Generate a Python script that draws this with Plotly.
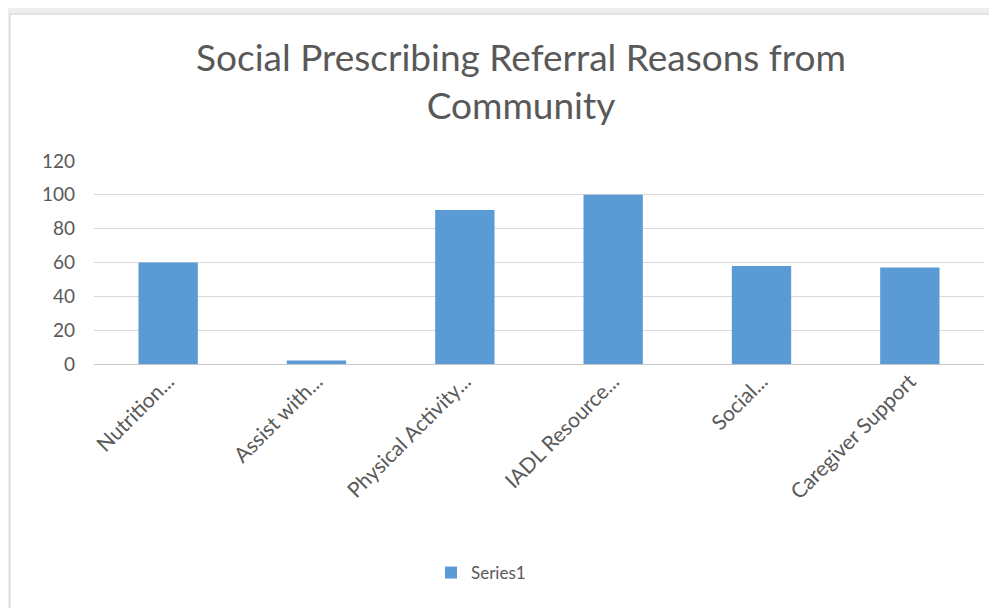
import plotly.graph_objects as go

categories = ["Nutrition...", "Assist with...", "Physical Activity...", "IADL Resource...",
              "Social...", "Caregiver Support"]
values = [60, 2, 91, 100, 58, 57]
y_ticks = [0, 20, 40, 60, 80, 100, 120]
series_name = "Series1"

# page body has an 8px margin, so the figure is 8px smaller than the window
W, H = 989, 600
L, R, T, B = 86, 13, 153, 244
pw, ph = W - L - R, H - T - B

def px_x(x):
    return (x - L) / pw

def px_y(y):
    return (H - B - y) / ph

fig = go.Figure()
fig.add_trace(go.Bar(x=categories, y=values, name=series_name,
                     marker=dict(color="#5b9bd5", line=dict(width=0)),
                     showlegend=True))

fig.update_layout(
    width=W, height=H,
    margin=dict(l=L, r=R, t=T, b=B),
    paper_bgcolor="#eeeeee",
    plot_bgcolor="rgba(0,0,0,0)",
    font=dict(family="Lato, Open Sans, sans-serif", color="#595959", size=14),
    title=dict(text="Social Prescribing Referral Reasons from<br>Community",
               x=513 / W, xref="container", xanchor="center",
               y=1 - 63 / H, yanchor="top",
               font=dict(size=37, color="#595959")),
    bargap=0.6,
    showlegend=True,
    legend=dict(orientation="h", x=px_x(423), xanchor="left", y=px_y(565),
                yanchor="middle", font=dict(size=17, color="#595959"),
                bgcolor="rgba(0,0,0,0)"),
    shapes=[dict(type="rect", xref="paper", yref="paper",
                 x0=px_x(2), x1=px_x(1000), y0=px_y(6), y1=px_y(610),
                 fillcolor="white", line=dict(color="#d0d0d0", width=1),
                 layer="below")],
)
fig.update_xaxes(tickangle=-45, showgrid=False, showline=False, ticks="",
                 tickfont=dict(size=21, color="#595959"))
fig.update_yaxes(range=[0, 120], tickvals=y_ticks, showgrid=True,
                 gridcolor="#d9d9d9", gridwidth=1, zeroline=True,
                 zerolinecolor="#c8c8c8", zerolinewidth=1, showline=False,
                 ticks="", ticklabelstandoff=18,
                 tickfont=dict(size=19, color="#595959"))

fig.write_html("out.html")
